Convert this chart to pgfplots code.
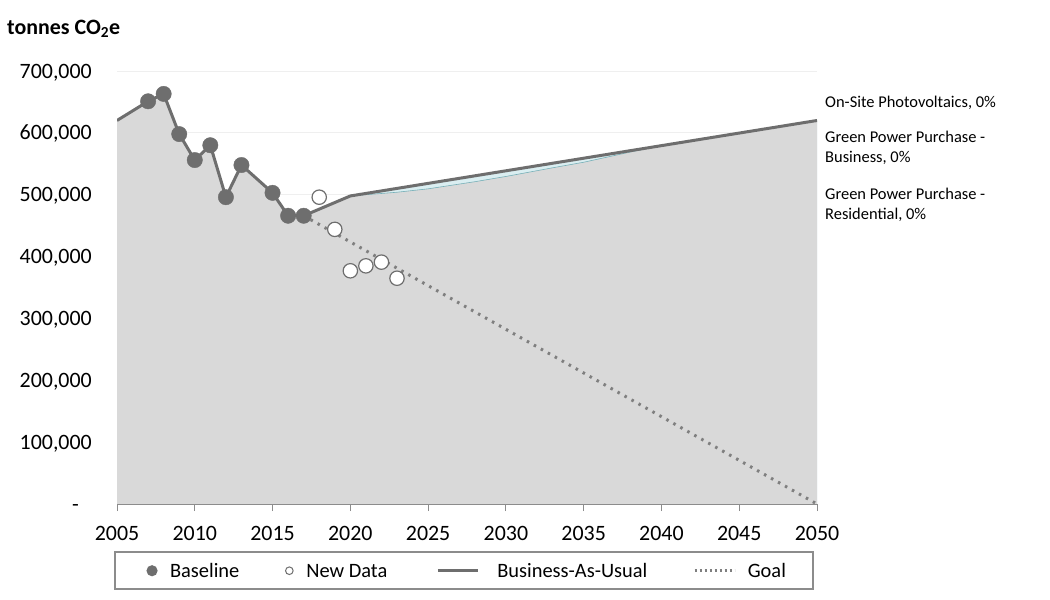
\documentclass[border=0pt]{standalone}
\usepackage{fontspec}
\setmainfont{Carlito}
\usepackage{pgfplots}
\pgfplotsset{compat=1.18}
\definecolor{linegray}{HTML}{6E6E6E}
\definecolor{areagray}{HTML}{D9D9D9}
\definecolor{bandfill}{HTML}{DAEEF1}
\definecolor{bandedge}{HTML}{76B0B8}
\definecolor{dotgray}{HTML}{7F7F7F}
\definecolor{axisgray}{HTML}{8C8C8C}
\definecolor{gridgray}{HTML}{EFEFEF}
\begin{document}
\begin{tikzpicture}
\path[use as bounding box] (0,0) rectangle (1050bp,600bp);
\begin{axis}[
  at={(117bp,96bp)}, anchor=south west,
  scale only axis, width=700bp, height=433bp,
  xmin=2005, xmax=2050, ymin=0, ymax=700000,
  axis x line*=bottom, axis y line*=left,
  y axis line style={draw=none},
  x axis line style={axisgray, line width=1bp},
  xtick={2005,2010,...,2050},
  xticklabels={2005,2010,2015,2020,2025,2030,2035,2040,2045,2050},
  ytick={0,100000,...,700000},
  yticklabels={{-\rule{13bp}{0pt}},{100,000},{200,000},{300,000},{400,000},{500,000},{600,000},{700,000}},
  scaled ticks=false,
  tick align=outside,
  xtick style={axisgray, line width=1bp},
  ytick style={draw=none},
  major tick length=7bp,
  ymajorgrids,
  grid style={gridgray, line width=0.8bp},
  ticklabel style={font=\fontsize{22}{26}\selectfont, inner sep=0pt},
  xticklabel style={anchor=base, yshift=-29bp},
  yticklabel style={anchor=base east, yshift=-7bp, xshift=-18bp},
  legend columns=4,
  legend style={at={(0.4957,-0.1085)}, anchor=north, draw=axisgray, line width=2bp,
    font=\fontsize{20.5}{24}\selectfont, inner xsep=27.5bp, inner ysep=12bp,
    nodes={inner sep=0pt},
    /tikz/column 1/.style={column sep=8bp},
    /tikz/column 2/.style={column sep=40bp},
    /tikz/column 3/.style={column sep=7bp},
    /tikz/column 4/.style={column sep=49bp},
    /tikz/column 5/.style={column sep=18bp},
    /tikz/column 6/.style={column sep=46bp},
    /tikz/column 7/.style={column sep=12bp}},
]
\addlegendimage{legend image code/.code={\path[draw=none,fill=none] (0,-4.5bp) rectangle (20bp,4.5bp); \fill[linegray] (10bp,0) circle (4.5bp);}}
\addlegendentry[text height=13.5bp, text depth=0pt]{Baseline}
\addlegendimage{legend image code/.code={\path[draw=none,fill=none] (0,-4.5bp) rectangle (20bp,4.5bp); \draw[linegray, line width=1bp, fill=white] (10bp,0) circle (3.8bp);}}
\addlegendentry[text height=13.5bp, text depth=0pt]{New Data}
\addlegendimage{legend image code/.code={\path[draw=none,fill=none] (0,-4.5bp) rectangle (40bp,4.5bp); \draw[linegray, line width=3bp] (0,0) -- (40bp,0);}}
\addlegendentry[text height=13.5bp, text depth=0pt]{Business-As-Usual}
\addlegendimage{legend image code/.code={\path[draw=none,fill=none] (0,-4.5bp) rectangle (40bp,4.5bp); \draw[dotgray, line width=2.5bp, dash pattern=on 2bp off 3bp] (0,0) -- (40bp,0);}}
\addlegendentry[text height=13.5bp, text depth=0pt]{Goal}

% business-as-usual envelope (band colour shows where reductions are)
\addplot[fill=bandfill, draw=none, forget plot] coordinates {
 (2005,620000) (2007,651000) (2008,663000) (2009,598000) (2010,556000) (2011,580000)
 (2012,496000) (2013,548000) (2015,503000) (2016,466000) (2017,466000)
 (2020,498000) (2050,620000)} \closedcycle;
% remaining emissions area
\addplot[fill=areagray, draw=none, forget plot] coordinates {
 (2005,620000) (2007,651000) (2008,663000) (2009,598000) (2010,556000) (2011,580000)
 (2012,496000) (2013,548000) (2015,503000) (2016,466000) (2017,466000)
 (2020,498000) (2021,500000) (2023,504000) (2025,509500) (2028,521000) (2030,529500)
 (2033,543500) (2035,552500) (2038,569000) (2040,579300) (2050,620000)} \closedcycle;
\addplot[bandedge, line width=0.6bp, forget plot] coordinates {
 (2020,498000) (2021,500000) (2023,504000) (2025,509500) (2028,521000) (2030,529500)
 (2033,543500) (2035,552500) (2038,569000) (2040,579300)};
% goal
\addplot[dotgray, line width=3bp, dash pattern=on 2.5bp off 5.5bp, forget plot] coordinates {
 (2017,466000) (2050,0)};
% business as usual line
\addplot[linegray, line width=3bp, line join=round, forget plot] coordinates {
 (2005,620000) (2007,651000) (2008,663000) (2009,598000) (2010,556000) (2011,580000)
 (2012,496000) (2013,548000) (2015,503000) (2016,466000) (2017,466000)
 (2020,498000) (2050,620000)};
% baseline
\addplot[only marks, mark=*, mark size=7.7bp, mark options={fill=linegray, draw=linegray}, forget plot] coordinates {
 (2007,651000) (2008,663000) (2009,598000) (2010,556000) (2011,580000)
 (2012,496000) (2013,548000) (2015,503000) (2016,466000) (2017,466000)};
% new data
\addplot[only marks, mark=*, mark size=7.2bp, mark options={fill=white, draw=linegray, line width=1.2bp}, forget plot] coordinates {
 (2018,496000) (2019,444000) (2020,377000) (2021,385000) (2022,391000) (2023,365000)};
\end{axis}
\node[anchor=base west, inner sep=0pt, font=\fontsize{22}{26}\selectfont\bfseries] at (7bp,565.7bp) {tonnes CO\textsubscript{2}e};
\begin{scope}[every node/.style={anchor=base west, inner sep=0pt, font=\fontsize{16.5}{20}\selectfont}]
\node at (825bp,492.7bp) {On-Site Photovoltaics, 0\%};
\node at (825bp,457.3bp) {Green Power Purchase -};
\node at (825bp,437.3bp) {Business, 0\%};
\node at (825bp,400bp) {Green Power Purchase -};
\node at (825bp,380.7bp) {Residential, 0\%};
\end{scope}
\end{tikzpicture}
\end{document}
